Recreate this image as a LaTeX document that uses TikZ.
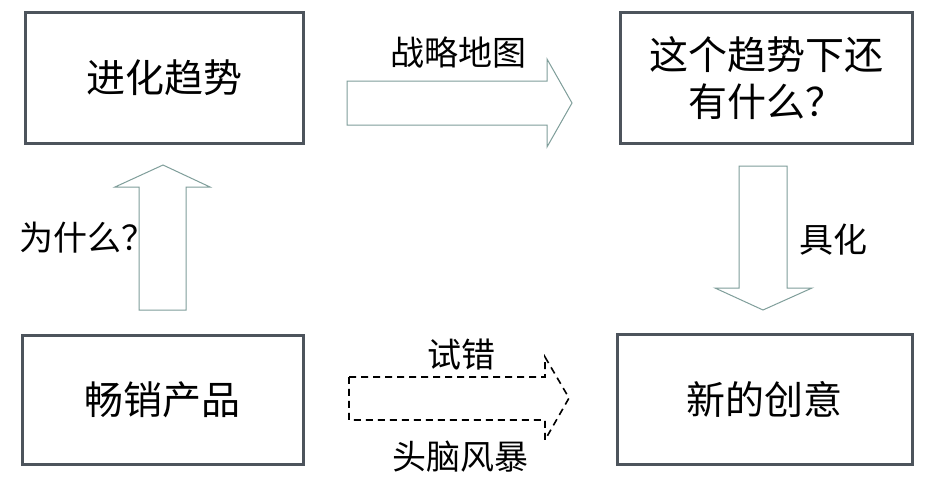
\documentclass[tikz,border=0pt]{standalone}
\usepackage{fontspec}
\newfontfamily\cjk{Noto Sans CJK SC}
\usetikzlibrary{positioning}
\definecolor{boxgray}{HTML}{4D545C}
\definecolor{arrowgray}{HTML}{7F9E9A}
\tikzset{
	box/.style={shape=rectangle, draw=boxgray, line width=3pt, font=\cjk\fontsize{39}{47}\selectfont, align=center},
	lbl/.style={font=\cjk\fontsize{34}{40}\selectfont, inner sep=0pt},
	blockarrow/.style={draw=arrowgray, line width=1pt, line join=miter},
	dasharrow/.style={draw=black, line width=1.6pt, dash pattern=on 7pt off 5pt}
}
\begin{document}
\begin{tikzpicture}[x=1pt, y=-1pt]
	\useasboundingbox[fill=white] (0,0) rectangle (941,490);
	
	\node[box, minimum width=278pt, minimum height=131pt] (trend) at (164, 77.5)   {进化趋势};
	\node[box, minimum width=292pt, minimum height=131pt] (what)  at (766, 78)     {这个趋势下还\\有什么？};
	\node[box, minimum width=281pt, minimum height=129pt] (hit)   at (162.5, 399.5) {畅销产品};
	\node[box, minimum width=295pt, minimum height=130pt] (idea)  at (764.5, 399)  {新的创意};
	
	% block arrows
	\draw[blockarrow] (347,81) -- (547,81) -- (547,59) -- (572,103) -- (547,147) -- (547,125) -- (347,125) -- cycle;
	\draw[blockarrow] (139,310) -- (139,187) -- (115,187) -- (163,165) -- (210,187) -- (186,187) -- (186,310) -- cycle;
	\draw[blockarrow] (739,166) -- (787,166) -- (787,288) -- (812,288) -- (763,310) -- (715,288) -- (739,288) -- cycle;
	\draw[dasharrow] (349,377) -- (545,377) -- (545,357) -- (569,398) -- (545,440) -- (545,420) -- (349,420) -- cycle;
	
	\node[lbl] (map)   at (458, 53)  {战略地图};
	\node[lbl] (why)   at (87, 238)  {为什么？};
	\node[lbl] (conc)  at (833, 240) {具化};
	\node[lbl] (trial) at (461, 355) {试错};
	\node[lbl] (storm) at (460, 457) {头脑风暴};
	
\end{tikzpicture}
\end{document}
